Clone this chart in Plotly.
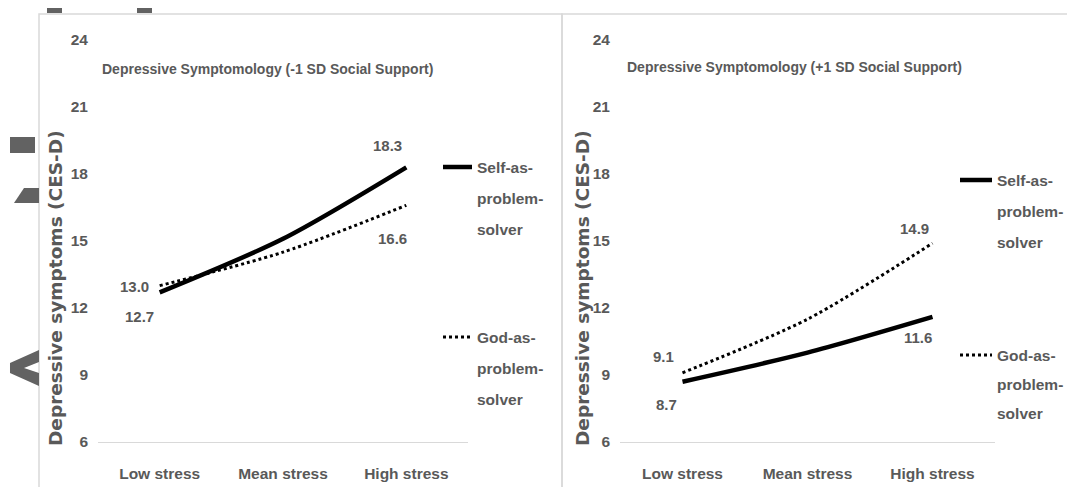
import plotly.graph_objects as go

# ---- data ----
stress = ["Low stress", "Mean stress", "High stress"]
low_support_self = [12.7, 15.1, 18.3]
low_support_god = [13.0, 14.5, 16.6]
high_support_self = [8.7, 10.0, 11.6]
high_support_god = [9.1, 11.5, 14.9]
y_ticks = [6, 9, 12, 15, 18, 21, 24]
panel_titles = ["Depressive Symptomology (-1 SD Social Support)",
                "Depressive Symptomology (+1 SD Social Support)"]
y_title = "Depressive symptoms (CES-D)"
legend_lines = [["Self-as-", "problem-", "solver"], ["God-as-", "problem-", "solver"]]

# page body has an 8px margin: work in window pixels and convert
OX, OY = 8, 8
FW, FH = 1075 - OX, 487 - OY
PLOT_TOP, PLOT_BOT = 40, 442
MT = PLOT_TOP - OY
MB = FH - (PLOT_BOT - OY)
GREY = "#595959"
SANS = "Liberation Sans, Arial, sans-serif"
WIDE = "DejaVu Sans, Verdana, sans-serif"


def px(x, y):
    return (x - OX) / FW, (PLOT_BOT - y) / (PLOT_BOT - PLOT_TOP)


def f(size, family=SANS):
    return dict(family=family, size=size, color=GREY, weight="bold")


SELF_LINE = dict(color="black", width=4.5)
GOD_LINE = dict(color="black", width=3, dash="dot")

fig = go.Figure()
panels = [("x", "y", low_support_self, low_support_god),
          ("x2", "y2", high_support_self, high_support_god)]
for xa, ya, s_self, s_god in panels:
    fig.add_trace(go.Scatter(x=stress, y=s_self, mode="lines", name="Self-as-problem-solver",
                             line=dict(SELF_LINE, shape="spline", smoothing=0.8),
                             xaxis=xa, yaxis=ya, hoverinfo="skip", showlegend=False))
    fig.add_trace(go.Scatter(x=stress, y=s_god, mode="lines", name="God-as-problem-solver",
                             line=dict(GOD_LINE, shape="spline", smoothing=0.8),
                             xaxis=xa, yaxis=ya, hoverinfo="skip", showlegend=False))

axis_common = dict(showgrid=False, zeroline=False, fixedrange=True)
xcommon = dict(axis_common, type="category", range=[-0.5, 2.5], showline=True,
               linecolor="#d9d9d9", linewidth=1.2, ticks="",
               tickfont=f(15.5), ticklabelstandoff=17)
ycommon = dict(axis_common, range=[6, 24], tickvals=y_ticks, showline=False, ticks="",
               tickfont=f(15.5), ticklabelstandoff=9)

fig.update_layout(
    width=FW, height=FH,
    margin=dict(l=0, r=0, t=MT, b=MB),
    paper_bgcolor="white", plot_bgcolor="white",
    showlegend=False,
    xaxis=dict(xcommon, domain=[px(98, 0)[0], px(468, 0)[0]], anchor="y"),
    yaxis=dict(ycommon, domain=[0, 1], anchor="x"),
    xaxis2=dict(xcommon, domain=[px(620, 0)[0], px(995, 0)[0]], anchor="y2"),
    yaxis2=dict(ycommon, domain=[0, 1], anchor="x2"),
)

# data labels at the series ends
label_specs = [
    ("x", "y", low_support_self, [(0, -20, -24), (2, -19, 22)]),
    ("x", "y", low_support_god, [(0, -25, -1), (2, -14, -33)]),
    ("x2", "y2", high_support_self, [(0, -16, -23), (2, -15, -21)]),
    ("x2", "y2", high_support_god, [(0, -19, 16), (2, -18, 15)]),
]
for xa, ya, vals, specs in label_specs:
    for i, dx, dy in specs:
        fig.add_annotation(x=stress[i], y=vals[i], xref=xa, yref=ya,
                           text=f"{vals[i]:.1f}", showarrow=False,
                           xshift=dx, yshift=dy, font=f(15))

# panel titles
for t, (tx, ty) in zip(panel_titles, [(100, 69), (625, 67)]):
    x, y = px(tx, ty)
    fig.add_annotation(x=x, y=y, xref="paper", yref="paper", xanchor="left", yanchor="middle",
                       text=t, showarrow=False, font=f(14))

# y axis titles
for tx in (55, 582):
    x, y = px(tx, 288)
    fig.add_annotation(x=x, y=y, xref="paper", yref="paper", xanchor="center", yanchor="middle",
                       text=y_title, showarrow=False, textangle=-90, font=f(18.5, WIDE))

shapes = []

# legends (one per panel, placed to the right of each plot)
legend_specs = [
    (443, 472, [(167, 198, 229), (337, 368, 399)]),
    (960, 992, [(180, 211, 242), (355, 384, 413)]),
]
for x0, x1, rows in legend_specs:
    for k, (ys, style) in enumerate(zip(rows, (SELF_LINE, GOD_LINE))):
        a = px(x0, ys[0])
        b = px(x1, ys[0])
        shapes.append(dict(type="line", xref="paper", yref="paper",
                           x0=a[0], y0=a[1], x1=b[0], y1=b[1], line=style))
        for txt, yy in zip(legend_lines[k], ys):
            x, y = px(x1 + 3, yy)
            fig.add_annotation(x=x, y=y, xref="paper", yref="paper", xanchor="left",
                               yanchor="middle", text=txt, showarrow=False, font=f(15.5))

# panel borders
for x0, x1 in ((39, 562), (562, 1100)):
    a = px(x0, 14)
    b = px(x1, 500)
    shapes.append(dict(type="rect", xref="paper", yref="paper", x0=a[0], y0=b[1], x1=b[0], y1=a[1],
                       line=dict(color="#d9d9d9", width=1.5), fillcolor="rgba(0,0,0,0)", layer="below"))


# watermark fragments ("Accepted Article" stamp behind the charts)
def poly(points):
    pts = [px(x, y) for x, y in points]
    return "M" + " L".join(f"{x:.5f},{y:.5f}" for x, y in pts) + " Z"


wm = [
    [(47, 0), (62, 0), (62, 13), (47, 13)],
    [(137, 0), (152, 0), (152, 13), (137, 13)],
    [(10, 137), (35, 137), (35, 153), (10, 153)],
    [(24, 188), (39, 188), (39, 203), (14, 203)],
    [(39, 350), (39, 362), (24, 368), (39, 373), (39, 386), (10, 373), (10, 363)],
]
for p in wm:
    shapes.append(dict(type="path", xref="paper", yref="paper", path=poly(p),
                       fillcolor="#626262", line=dict(width=0), layer="below"))
fig.update_layout(shapes=shapes)

fig.write_html("out.html")
